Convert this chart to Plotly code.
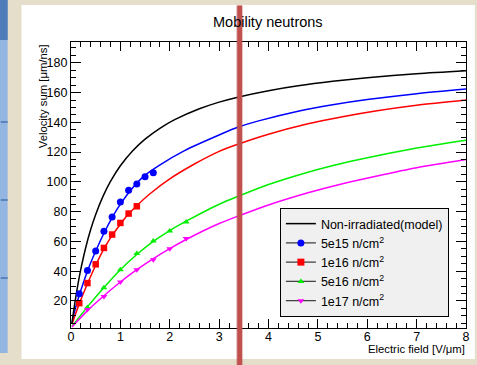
import plotly.graph_objects as go

# ---- measured drift data (E in V/um, velocity sum in um/ns) ----
e5e15 = [0.167, 0.333, 0.5, 0.667, 0.833, 1.0, 1.167, 1.333, 1.5, 1.667]
v5e15 = [24.8, 40.5, 53.5, 66.8, 76.4, 86.5, 94.4, 98.5, 103.4, 106.1]

e1e16 = [0.167, 0.333, 0.5, 0.667, 0.833, 1.0, 1.167, 1.333]
v1e16 = [18.5, 32.0, 44.6, 55.6, 64.6, 72.4, 78.7, 83.6]

e5e16 = [0.333, 0.667, 1.0, 1.333, 1.667, 2.0, 2.333]
v5e16 = [15.6, 28.9, 41.0, 51.8, 60.3, 67.0, 73.1]

e1e17 = [0.333, 0.667, 1.0, 1.333, 1.667, 2.0, 2.333]
v1e17 = [14.2, 23.0, 32.7, 41.0, 47.7, 55.0, 61.9]

# ---- model / fit curves ----
fit_e_model = [0.02, 0.05, 0.1, 0.15, 0.2, 0.3, 0.4, 0.5, 0.65, 0.8, 1.0, 1.25, 1.5,
               1.8, 2.1, 2.6, 3.0, 3.4, 4.0, 4.6, 5.3, 6.0, 7.0, 8.0]
fit_v_model = [5.2, 12.4, 23.3, 32.9, 41.5, 56.1, 68.1, 78.1, 90.4, 100.3, 110.8, 120.9, 128.7,
               136.0, 141.8, 149.1, 153.6, 157.1, 161.3, 164.6, 167.6, 170.0, 172.6, 174.6]

fit_e_5e15 = [0.02, 0.08, 0.167, 0.333, 0.5, 0.667, 0.833, 1.0, 1.25, 1.5, 1.78, 2.3, 3.0,
              3.4, 3.8, 4.6, 5.3, 6.0, 7.0, 8.0]
fit_v_5e15 = [5.0, 14.0, 23.8, 40.0, 53.5, 65.5, 76.0, 85.0, 96.0, 104.5, 111.0, 121.0, 131.5,
              137.0, 141.0, 147.5, 151.8, 155.3, 159.3, 162.4]

fit_e_1e16 = [0.02, 0.167, 0.333, 0.5, 0.667, 0.833, 1.0, 1.167, 1.333, 1.6, 2.0, 2.5,
              3.0, 3.4, 4.0, 4.8, 5.5, 6.2, 7.0, 8.0]
fit_v_1e16 = [4.5, 18.0, 31.5, 44.0, 55.0, 64.0, 71.5, 78.5, 84.0, 92.0, 102.0, 112.0,
              120.5, 125.5, 132.0, 139.0, 143.8, 147.8, 151.5, 155.0]

fit_e_5e16 = [0.02, 0.333, 0.667, 1.0, 1.333, 1.667, 2.0, 2.333, 3.0, 3.4, 4.0, 4.8,
              5.5, 6.2, 7.0, 8.0]
fit_v_5e16 = [3.0, 16.0, 29.0, 41.0, 51.2, 60.0, 67.3, 73.6, 85.0, 90.5, 98.2, 106.5,
              112.5, 117.5, 122.7, 128.0]

fit_e_1e17 = [0.02, 0.333, 0.667, 1.0, 1.333, 1.667, 2.0, 2.333, 3.0, 3.4, 4.0, 4.8,
              5.5, 6.2, 7.0, 8.0]
fit_v_1e17 = [2.5, 13.5, 23.5, 32.7, 41.0, 48.5, 55.2, 61.3, 72.0, 77.2, 84.5, 92.7,
              98.8, 104.0, 109.5, 115.0]

series_names = ["5e15 n/cm<sup>2</sup>", "1e16 n/cm<sup>2</sup>",
                "5e16 n/cm<sup>2</sup>", "1e17 n/cm<sup>2</sup>"]
colors = ["#0000FF", "#FF0000", "#00EE00", "#FF00FF"]
symbols = ["circle", "square", "triangle-up", "triangle-down"]
msizes = [7, 6.5, 6, 6]

x_ticks = [0, 1, 2, 3, 4, 5, 6, 7, 8]
y_ticks = [20, 40, 60, 80, 100, 120, 140, 160, 180]

FONT = "Liberation Sans, Arial, Helvetica, sans-serif"

# figure geometry (pixels)
W, H = 477, 365
L, R, T, B = 71, 7, 42, 37
PW, PH = W - L - R, H - T - B


def px(xp):
    return (xp - L) / PW


def py(yp):
    return (H - B - yp) / PH


fig = go.Figure()

fits = [(fit_e_5e15, fit_v_5e15), (fit_e_1e16, fit_v_1e16),
        (fit_e_5e16, fit_v_5e16), (fit_e_1e17, fit_v_1e17)]
points = [(e5e15, v5e15), (e1e16, v1e16), (e5e16, v5e16), (e1e17, v1e17)]

# fitted curves
for (fe, fv), c in zip(fits, colors):
    fig.add_trace(go.Scatter(x=fe, y=fv, mode="lines",
                             line=dict(color=c, width=1.5, shape="spline", smoothing=0.8),
                             showlegend=False, hoverinfo="skip"))

# model curve (non-irradiated)
fig.add_trace(go.Scatter(x=fit_e_model, y=fit_v_model, mode="lines",
                         line=dict(color="black", width=1.5, shape="spline", smoothing=0.8),
                         name="Non-irradiated(model)", showlegend=True, legendgroup="m"))

# measured points
for (pe, pv), c, s, ms in zip(points, colors, symbols, msizes):
    fig.add_trace(go.Scatter(x=pe, y=pv, mode="markers",
                             marker=dict(color=c, symbol=s, size=ms, line=dict(width=0)),
                             showlegend=False))

# legend entries for the measured series
for i, (nm, c, s) in enumerate(zip(series_names, colors, symbols)):
    fig.add_trace(go.Scatter(x=[None], y=[None], mode="lines+markers", name=nm,
                             line=dict(color="#444444", width=1.3),
                             marker=dict(color=c, symbol=s, size=7 if i < 2 else 6),
                             legendgroup="g%d" % i))

shapes = [
    # white canvas panel
    dict(type="rect", xref="paper", yref="paper", layer="below",
         x0=px(21), x1=px(W + 2), y0=py(359), y1=py(5),
         fillcolor="white", line=dict(width=0)),
    # side window strip
    dict(type="rect", xref="paper", yref="paper", layer="below",
         x0=px(-1), x1=px(7), y0=py(353), y1=py(0),
         fillcolor="#93B5E2", line=dict(width=0)),
    dict(type="rect", xref="paper", yref="paper", layer="below",
         x0=px(-1), x1=px(7), y0=py(40), y1=py(0),
         fillcolor="#4F7DB9", line=dict(width=0)),
]
for yy in [122, 200, 278]:
    shapes.append(dict(type="line", xref="paper", yref="paper", layer="below",
                       x0=px(0), x1=px(7), y0=py(yy), y1=py(yy),
                       line=dict(color="#5B84BC", width=2)))
# vertical marker line
shapes.append(dict(type="rect", xref="paper", yref="paper", layer="above",
                   x0=px(237.8), x1=px(244.8), y0=py(H + 1), y1=py(5.5),
                   fillcolor="rgba(192,80,77,0.35)", line=dict(width=0)))
shapes.append(dict(type="rect", xref="paper", yref="paper", layer="above",
                   x0=px(238.9), x1=px(243.7), y0=py(H + 1), y1=py(5.5),
                   fillcolor="#BF504D", line=dict(width=0)))

annotations = [
    dict(text="Mobility neutrons", xref="paper", yref="paper",
         x=px(270), y=py(22), xanchor="center", yanchor="middle",
         showarrow=False, font=dict(family=FONT, size=14.5, color="black")),
    dict(text="Electric field [V/\u03bcm]", xref="paper", yref="paper",
         x=px(471.5), y=py(349), xanchor="right", yanchor="middle",
         showarrow=False, font=dict(family=FONT, size=11.3, color="black")),
    dict(text="Velocity sum [\u03bcm/ns]", xref="paper", yref="paper",
         x=px(43), y=py(96), xanchor="center", yanchor="middle", textangle=-90,
         showarrow=False, font=dict(family=FONT, size=11.3, color="black")),
]

axis_common = dict(showline=True, linecolor="black", linewidth=1.2, mirror="ticks",
                   ticks="inside", tickcolor="black", tickwidth=1, showgrid=False,
                   zeroline=False, tickfont=dict(family=FONT, size=12.5, color="black"))

fig.update_layout(
    width=W, height=H,
    margin=dict(l=L, r=R, t=T, b=B, pad=0),
    paper_bgcolor="#E5DECB", plot_bgcolor="white",
    showlegend=True,
    legend=dict(x=px(282), y=py(208), xanchor="left", yanchor="top",
                bgcolor="#F0F0F0", bordercolor="black", borderwidth=1,
                font=dict(family=FONT, size=12.5, color="black"),
                tracegroupgap=3, itemwidth=30, traceorder="normal"),
    xaxis=dict(range=[0, 8], tickvals=x_ticks, ticklen=9, ticklabelstandoff=-3,
               minor=dict(dtick=0.2, ticklen=5, ticks="inside", tickcolor="black"),
               **axis_common),
    yaxis=dict(range=[1.8, 194], tickvals=y_ticks, ticklen=10,
               minor=dict(dtick=5, ticklen=5, ticks="inside", tickcolor="black"),
               **axis_common),
    shapes=shapes, annotations=annotations,
)

fig.write_html("out.html")
